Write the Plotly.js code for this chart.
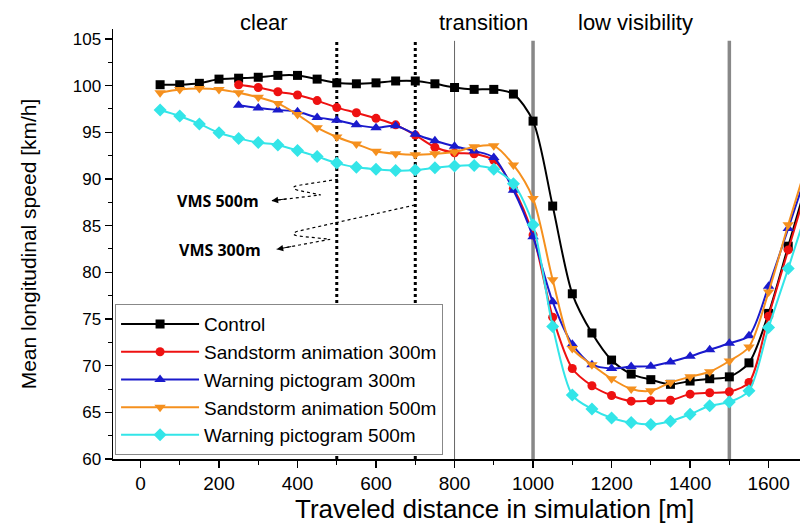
<!DOCTYPE html>
<html>
<head>
<meta charset="utf-8">
<script src="https://cdn.plot.ly/plotly-3.0.1.min.js"></script>
<style>html,body{margin:0;padding:0;background:#fff;}#chart{width:800px;height:527px;}</style>
</head>
<body>
<div id="chart"></div>
<script>
// ---- data ----
const seriesNames = ["Control", "Sandstorm animation 300m", "Warning pictogram 300m", "Sandstorm animation 500m", "Warning pictogram 500m"];

const xFrom50 = [50,100,150,200,250,300,350,400,450,500,550,600,650,700,750,800,850,900,950,1000,1050,1100,1150,1200,1250,1300,1350,1400,1450,1500,1550,1600,1650,1700];
const xFrom250 = [250,300,350,400,450,500,550,600,650,700,750,800,850,900,950,1000,1050,1100,1150,1200,1250,1300,1350,1400,1450,1500,1550,1600,1650,1700];

const controlSpeed = [100.1,100.1,100.25,100.7,100.8,100.9,101.1,101.1,100.7,100.3,100.2,100.3,100.5,100.5,100.2,99.8,99.6,99.6,99.1,96.2,87.1,77.7,73.5,70.6,69.1,68.5,68.0,68.35,68.6,68.8,70.3,75.6,82.8,90.0];
const sandstorm300Speed = [100.1,99.8,99.35,99.0,98.4,97.65,97.1,96.5,95.8,94.7,93.4,92.8,92.7,92.0,89.0,84.0,75.2,69.7,67.85,66.8,66.2,66.25,66.3,66.95,67.1,67.2,68.2,75.3,82.4,89.5];
const pictogram300Speed = [97.9,97.6,97.4,97.2,96.6,96.3,95.8,95.5,95.7,94.8,94.1,93.5,93.0,92.3,88.8,83.8,76.85,72.3,70.1,69.7,69.9,69.95,70.4,71.0,71.7,72.4,73.2,78.5,84.7,91.0];
const sandstorm500Speed = [99.25,99.6,99.7,99.6,99.25,98.75,98.1,96.9,95.5,94.5,93.75,92.97,92.7,92.6,92.7,92.9,93.45,93.55,91.5,87.9,79.2,71.85,70.1,68.6,67.5,67.3,68.2,68.8,69.35,70.5,72.0,77.9,85.1,92.0];
const pictogram500Speed = [97.4,96.75,95.9,94.95,94.35,93.9,93.65,93.05,92.4,91.7,91.25,91.05,90.9,90.95,91.2,91.4,91.45,91.05,89.5,85.1,74.2,66.85,65.35,64.4,63.9,63.7,64.05,64.8,65.7,66.1,67.3,74.1,80.4,87.0];

const xTickVals = [0,200,400,600,800,1000,1200,1400,1600];
const yTickVals = [60,65,70,75,80,85,90,95,100,105];

const vmsPositions = [500, 700];          // dotted VMS lines
const zoneBoundaryThin = [800];
const zoneBoundaryThick = [1000, 1500];
const zoneLabels = ["clear", "transition", "low visibility"];
const zoneLabelX = [315, 875, 1260];
const vmsLabels = ["VMS 500m", "VMS 300m"];
const xTitle = "Traveled distance in simulation [m]";
const yTitle = "Mean longitudinal speed [km/h]";

// ---- styling ----
const FONT = "Liberation Sans, Arial, sans-serif";
const colors = ["#000000", "#ee1111", "#1a1acc", "#f5901e", "#33e5e8"];
const symbols = ["square", "circle", "triangle-up", "triangle-down", "diamond"];
const msizes = [9, 9, 10, 10, 10];
const xs = [xFrom50, xFrom250, xFrom250, xFrom50, xFrom50];
const ys = [controlSpeed, sandstorm300Speed, pictogram300Speed, sandstorm500Speed, pictogram500Speed];

const traces = seriesNames.map((n, i) => ({
  type: "scatter", mode: "lines+markers", name: n,
  x: xs[i], y: ys[i], legendgroup: "g" + i,
  line: {color: colors[i], width: 2, shape: "spline", smoothing: 0.8},
  marker: {color: colors[i], symbol: symbols[i], size: msizes[i]},
  cliponaxis: true
}));

const shapes = [];
vmsPositions.forEach(v => shapes.push({type: "line", xref: "x", yref: "y", x0: v, x1: v, y0: 60, y1: 104.8,
  line: {color: "#000", width: 3, dash: "dot"}, layer: "below"}));
zoneBoundaryThin.forEach(v => shapes.push({type: "line", xref: "x", yref: "y", x0: v, x1: v, y0: 60, y1: 104.8,
  line: {color: "#666", width: 1}, layer: "below"}));
zoneBoundaryThick.forEach(v => shapes.push({type: "line", xref: "x", yref: "y", x0: v, x1: v, y0: 60, y1: 104.8,
  line: {color: "#888", width: 3.5}, layer: "below"}));
// squiggly dotted leader lines from VMS positions to labels
shapes.push({type: "path", xref: "x", yref: "y", path: "M 503,89.97 L 400,89.3 Q 380,89.1 400,88.8 L 459,88.29 L 334,87.67",
  line: {color: "#000", width: 1.2, dash: "dot"}});
shapes.push({type: "path", xref: "x", yref: "y", path: "M 699,87.21 L 400,84.4 Q 380,84.1 400,83.9 L 483,83.54 L 347,82.47",
  line: {color: "#000", width: 1.2, dash: "dot"}});

const annotations = [];
zoneLabels.forEach((t, i) => annotations.push({text: t, xref: "x", yref: "paper", x: zoneLabelX[i], y: 1.014,
  xanchor: "center", yanchor: "middle", showarrow: false, font: {family: FONT, size: 22, color: "#000"}}));
annotations.push({text: "<b>" + vmsLabels[0] + "</b>", xref: "x", yref: "y", x: 197, y: 87.6, showarrow: false,
  xanchor: "center", yanchor: "middle", font: {family: "Open Sans, sans-serif", size: 16, color: "#000"}});
annotations.push({text: "<b>" + vmsLabels[1] + "</b>", xref: "x", yref: "y", x: 202, y: 82.4, showarrow: false,
  xanchor: "center", yanchor: "middle", font: {family: "Open Sans, sans-serif", size: 16, color: "#000"}});
// arrowheads
annotations.push({text: "", xref: "x", yref: "y", x: 334, y: 87.67, ax: 16, ay: -2, showarrow: true,
  arrowhead: 2, arrowsize: 1.3, arrowwidth: 1, arrowcolor: "#000", standoff: 0});
annotations.push({text: "", xref: "x", yref: "y", x: 347, y: 82.47, ax: 16, ay: -3, showarrow: true,
  arrowhead: 2, arrowsize: 1.3, arrowwidth: 1, arrowcolor: "#000", standoff: 0});
// x-axis title (the original figure is cropped on the right, so its title sits right of the visible centre)
annotations.push({text: xTitle, xref: "paper", yref: "paper", x: 0.5546, y: -0.155, xanchor: "center", yanchor: "bottom",
  showarrow: false, font: {family: FONT, size: 26, color: "#000"}});

const layout = {
  width: 800, height: 527,
  margin: {l: 113, r: 0, t: 29, b: 68, pad: 0},
  paper_bgcolor: "#fff", plot_bgcolor: "#fff",
  font: {family: FONT, color: "#000"},
  showlegend: true,
  legend: {x: 0.003, y: 0.36, xanchor: "left", yanchor: "top", bgcolor: "#fff",
    bordercolor: "#888", borderwidth: 1, font: {family: FONT, size: 19, color: "#000"},
    itemwidth: 78, tracegroupgap: 0, traceorder: "normal"},
  xaxis: {range: [-70, 1680], tickvals: xTickVals, ticks: "outside", ticklen: 7, tickwidth: 1.5, tickcolor: "#000",
    showline: true, linecolor: "#000", linewidth: 1.5, showgrid: false, zeroline: false,
    minor: {dtick: 100, tick0: 0, ticks: "outside", ticklen: 4, tickwidth: 1, tickcolor: "#000", showgrid: false},
    tickfont: {family: FONT, size: 19}},
  yaxis: {range: [60, 106.07], tickvals: yTickVals, ticks: "outside", ticklen: 7, tickwidth: 1.5, tickcolor: "#000",
    showline: true, linecolor: "#000", linewidth: 1.5, showgrid: false, zeroline: false,
    minor: {dtick: 2.5, tick0: 60, ticks: "outside", ticklen: 4, tickwidth: 1, tickcolor: "#000", showgrid: false},
    tickfont: {family: FONT, size: 17}, title: {text: yTitle, font: {family: FONT, size: 21}, standoff: 30}},
  shapes: shapes, annotations: annotations
};

Plotly.newPlot("chart", traces, layout, {displayModeBar: false, staticPlot: true});
</script>
</body>
</html>
